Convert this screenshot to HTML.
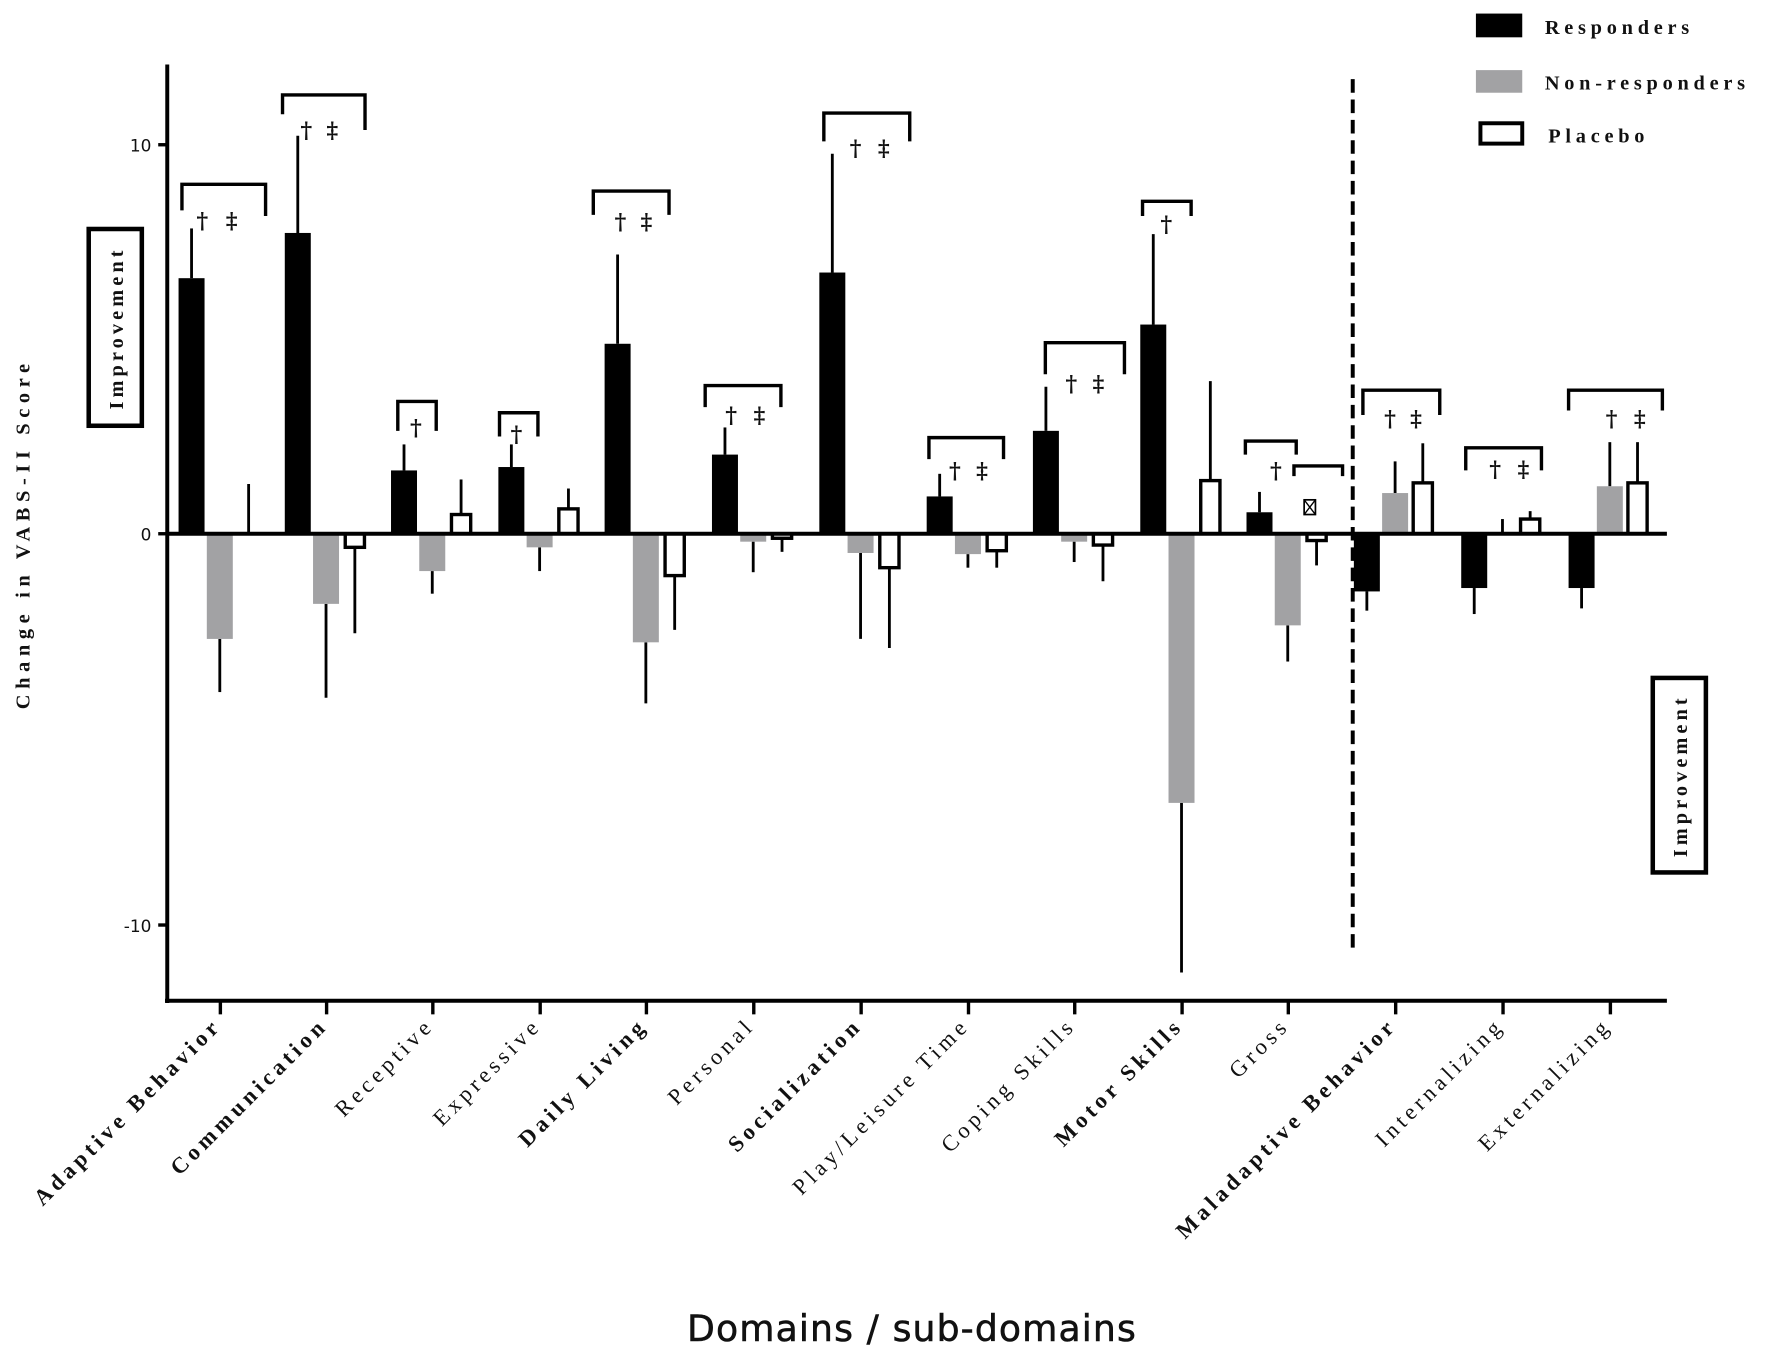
<!DOCTYPE html>
<html><head><meta charset="utf-8"><style>
html,body{margin:0;padding:0;background:#fff}
svg{display:block}
.lab{font-family:"Liberation Serif",serif;font-size:20px;letter-spacing:3.8px;fill:#111}
.b{font-weight:bold}
.sym{font-family:"DejaVu Serif","Liberation Serif",serif;font-size:20px;font-weight:bold;fill:#111;text-anchor:middle}
.leg{font-family:"Liberation Serif",serif;font-size:18px;font-weight:bold;letter-spacing:4.2px;fill:#111}
.imp{font-family:"Liberation Serif",serif;font-size:18px;font-weight:bold;letter-spacing:3.6px;fill:#111}
</style></head><body>
<svg width="1772" height="1357" viewBox="0 0 1568 1200" preserveAspectRatio="none" xmlns="http://www.w3.org/2000/svg">
<rect width="1568" height="1200" fill="#fff"/>
<line x1="148" y1="57" x2="148" y2="887" stroke="#000" stroke-width="3.5"/>
<line x1="146" y1="885" x2="1475" y2="885" stroke="#000" stroke-width="3.5"/>
<line x1="140" y1="128" x2="148" y2="128" stroke="#000" stroke-width="3"/>
<line x1="140" y1="472" x2="148" y2="472" stroke="#000" stroke-width="3"/>
<line x1="140" y1="818" x2="148" y2="818" stroke="#000" stroke-width="3"/>
<g font-family="DejaVu Sans,Liberation Sans,sans-serif" font-size="15" text-anchor="end" fill="#111">
<text x="134" y="134">10</text><text x="134" y="478">0</text><text x="134" y="824">-10</text>
</g>
<g stroke="#000" stroke-width="3">
<line x1="195" y1="885" x2="195" y2="897"/><line x1="289" y1="885" x2="289" y2="897"/><line x1="383" y1="885" x2="383" y2="897"/><line x1="478" y1="885" x2="478" y2="897"/><line x1="572" y1="885" x2="572" y2="897"/><line x1="667" y1="885" x2="667" y2="897"/><line x1="762" y1="885" x2="762" y2="897"/><line x1="857" y1="885" x2="857" y2="897"/><line x1="951" y1="885" x2="951" y2="897"/><line x1="1046" y1="885" x2="1046" y2="897"/><line x1="1140" y1="885" x2="1140" y2="897"/><line x1="1235" y1="885" x2="1235" y2="897"/><line x1="1330" y1="885" x2="1330" y2="897"/><line x1="1425" y1="885" x2="1425" y2="897"/>
</g>
<g stroke="#000" stroke-width="2.5">
<line x1="169.5" y1="246" x2="169.5" y2="202"/><line x1="194.5" y1="565" x2="194.5" y2="612"/><line x1="220" y1="472" x2="220" y2="428"/>
<line x1="263.5" y1="206" x2="263.5" y2="120"/><line x1="288.5" y1="534" x2="288.5" y2="617"/><line x1="314" y1="484" x2="314" y2="560"/>
<line x1="357.5" y1="416" x2="357.5" y2="393"/><line x1="382.5" y1="505" x2="382.5" y2="525"/><line x1="408" y1="455" x2="408" y2="424"/>
<line x1="452.5" y1="413" x2="452.5" y2="393"/><line x1="477.5" y1="484" x2="477.5" y2="505"/><line x1="503" y1="450" x2="503" y2="432"/>
<line x1="546.5" y1="304" x2="546.5" y2="225"/><line x1="571.5" y1="568" x2="571.5" y2="622"/><line x1="597" y1="509" x2="597" y2="557"/>
<line x1="641.5" y1="402" x2="641.5" y2="378"/><line x1="666.5" y1="479" x2="666.5" y2="506"/><line x1="692" y1="476" x2="692" y2="488"/>
<line x1="736.5" y1="241" x2="736.5" y2="136"/><line x1="761.5" y1="489" x2="761.5" y2="565"/><line x1="787" y1="502" x2="787" y2="573"/>
<line x1="831.5" y1="439" x2="831.5" y2="419"/><line x1="856.5" y1="490" x2="856.5" y2="502"/><line x1="882" y1="487" x2="882" y2="502"/>
<line x1="925.5" y1="381" x2="925.5" y2="342"/><line x1="950.5" y1="479" x2="950.5" y2="497"/><line x1="976" y1="482" x2="976" y2="514"/>
<line x1="1020.5" y1="287" x2="1020.5" y2="207"/><line x1="1045.5" y1="710" x2="1045.5" y2="860"/><line x1="1071" y1="425" x2="1071" y2="337"/>
<line x1="1114.5" y1="453" x2="1114.5" y2="435"/><line x1="1139.5" y1="553" x2="1139.5" y2="585"/><line x1="1165" y1="479" x2="1165" y2="500"/>
<line x1="1209.5" y1="523" x2="1209.5" y2="540"/><line x1="1234.5" y1="436" x2="1234.5" y2="408"/><line x1="1259" y1="427" x2="1259" y2="392"/>
<line x1="1304.5" y1="520" x2="1304.5" y2="543"/><line x1="1329.5" y1="472" x2="1329.5" y2="459"/><line x1="1354" y1="459" x2="1354" y2="452"/>
<line x1="1399.5" y1="520" x2="1399.5" y2="538"/><line x1="1424.5" y1="430" x2="1424.5" y2="391"/><line x1="1449" y1="427" x2="1449" y2="391"/>
</g>
<g fill="#000">
<rect x="158" y="246" width="23" height="226"/><rect x="252" y="206" width="23" height="266"/><rect x="346" y="416" width="23" height="56"/><rect x="441" y="413" width="23" height="59"/><rect x="535" y="304" width="23" height="168"/><rect x="630" y="402" width="23" height="70"/><rect x="725" y="241" width="23" height="231"/><rect x="820" y="439" width="23" height="33"/><rect x="914" y="381" width="23" height="91"/><rect x="1009" y="287" width="23" height="185"/><rect x="1103" y="453" width="23" height="19"/><rect x="1198" y="472" width="23" height="51"/><rect x="1293" y="472" width="23" height="48"/><rect x="1388" y="472" width="23" height="48"/>
</g>
<g fill="#a2a2a4">
<rect x="183" y="472" width="23" height="93"/><rect x="277" y="472" width="23" height="62"/><rect x="371" y="472" width="23" height="33"/><rect x="466" y="472" width="23" height="12"/><rect x="560" y="472" width="23" height="96"/><rect x="655" y="472" width="23" height="7"/><rect x="750" y="472" width="23" height="17"/><rect x="845" y="472" width="23" height="18"/><rect x="939" y="472" width="23" height="7"/><rect x="1034" y="472" width="23" height="238"/><rect x="1128" y="472" width="23" height="81"/><rect x="1223" y="436" width="23" height="36"/><rect x="1413" y="430" width="23" height="42"/>
</g>
<g fill="#fff" stroke="#000" stroke-width="3">
<rect x="305.5" y="472" width="17" height="12"/><rect x="399.5" y="455" width="17" height="17"/><rect x="494.5" y="450" width="17" height="22"/><rect x="588.5" y="472" width="17" height="37"/><rect x="683.5" y="472" width="17" height="4"/><rect x="778.5" y="472" width="17" height="30"/><rect x="873.5" y="472" width="17" height="15"/><rect x="967.5" y="472" width="17" height="10"/><rect x="1062.5" y="425" width="17" height="47"/><rect x="1156.5" y="472" width="17" height="6"/><rect x="1250.5" y="427" width="17" height="45"/><rect x="1345.5" y="459" width="17" height="13"/><rect x="1440.5" y="427" width="17" height="45"/>
</g>
<line x1="148" y1="472" x2="1475" y2="472" stroke="#000" stroke-width="3.5"/>
<rect x="1154" y="442" width="10" height="13" fill="#fff" stroke="#000" stroke-width="1.5"/>
<path d="M1154 442 L1164 455 M1164 442 L1154 455" stroke="#000" stroke-width="1.2"/>
<line x1="1197" y1="70" x2="1197" y2="842" stroke="#000" stroke-width="3.5" stroke-dasharray="12,6"/>
<g fill="none" stroke="#000" stroke-width="3">
<path d="M161 186 V163 H235 V191"/>
<path d="M250 101 V84 H323 V115"/>
<path d="M352 381 V355 H386 V381"/>
<path d="M442 386 V365 H476 V386"/>
<path d="M525 190 V169 H592 V190"/>
<path d="M624 360 V341 H691 V360"/>
<path d="M729 125 V100 H805 V125"/>
<path d="M822 406 V387 H888 V406"/>
<path d="M925 331 V303 H995 V331"/>
<path d="M1011 191 V178 H1054 V191"/>
<path d="M1102 402 V390 H1147 V402"/>
<path d="M1145 421 V412 H1188 V421"/>
<path d="M1206 367 V345 H1274 V367"/>
<path d="M1297 416 V396 H1364 V416"/>
<path d="M1388 363 V345 H1471 V363"/>
</g>
<g class="sym">
<text x="179" y="202">†</text><text x="205" y="202">‡</text>
<text x="271" y="122">†</text><text x="294" y="122">‡</text>
<text x="368" y="385">†</text>
<text x="457" y="391">†</text>
<text x="549" y="203">†</text><text x="572" y="203">‡</text>
<text x="647" y="374">†</text><text x="672" y="374">‡</text>
<text x="757" y="138">†</text><text x="782" y="138">‡</text>
<text x="845" y="423">†</text><text x="869" y="423">‡</text>
<text x="948" y="346">†</text><text x="972" y="346">‡</text>
<text x="1032" y="205">†</text>
<text x="1129" y="423">†</text>
<text x="1230" y="377">†</text><text x="1253" y="377">‡</text>
<text x="1323" y="422">†</text><text x="1348" y="422">‡</text>
<text x="1426" y="377">†</text><text x="1451" y="377">‡</text>
</g>
<rect x="78.5" y="202.5" width="47" height="174" fill="#fff" stroke="#000" stroke-width="4"/>
<text class="imp" transform="translate(109,290) rotate(-90)" text-anchor="middle">Improvement</text>
<rect x="1462.5" y="599.5" width="47" height="172" fill="#fff" stroke="#000" stroke-width="4"/>
<text class="imp" transform="translate(1493,686) rotate(-90)" text-anchor="middle">Improvement</text>
<text transform="translate(26,472) rotate(-90)" text-anchor="middle" font-family="Liberation Serif,serif" font-weight="bold" font-size="18" letter-spacing="5" fill="#111">Change in VABS-II Score</text>
<rect x="1306" y="12" width="41" height="21" fill="#000"/>
<text class="leg" x="1367" y="30">Responders</text>
<rect x="1306" y="62" width="41" height="20" fill="#a2a2a4"/>
<text class="leg" x="1367" y="79">Non-responders</text>
<rect x="1310" y="109" width="37" height="18" fill="#fff" stroke="#000" stroke-width="3.5"/>
<text class="leg" x="1370" y="126">Placebo</text>
<g class="lab" text-anchor="end">
<text class="b" transform="translate(197,908) rotate(-45)">Adaptive Behavior</text>
<text class="b" transform="translate(291,908) rotate(-45)">Communication</text>
<text transform="translate(385,908) rotate(-45)">Receptive</text>
<text transform="translate(480,908) rotate(-45)">Expressive</text>
<text class="b" transform="translate(574,908) rotate(-45)">Daily Living</text>
<text transform="translate(669,908) rotate(-45)">Personal</text>
<text class="b" transform="translate(764,908) rotate(-45)">Socialization</text>
<text transform="translate(859,908) rotate(-45)">Play/Leisure Time</text>
<text transform="translate(953,908) rotate(-45)">Coping Skills</text>
<text class="b" transform="translate(1048,908) rotate(-45)">Motor Skills</text>
<text transform="translate(1142,908) rotate(-45)">Gross</text>
<text class="b" transform="translate(1237,908) rotate(-45)">Maladaptive Behavior</text>
<text transform="translate(1332,908) rotate(-45)">Internalizing</text>
<text transform="translate(1427,908) rotate(-45)">Externalizing</text>
</g>
<text x="807" y="1186" text-anchor="middle" font-family="DejaVu Sans,Liberation Sans,sans-serif" font-size="32" letter-spacing="1" fill="#111" stroke="#111" stroke-width="0.5">Domains / sub-domains</text>
</svg>
</body></html>
